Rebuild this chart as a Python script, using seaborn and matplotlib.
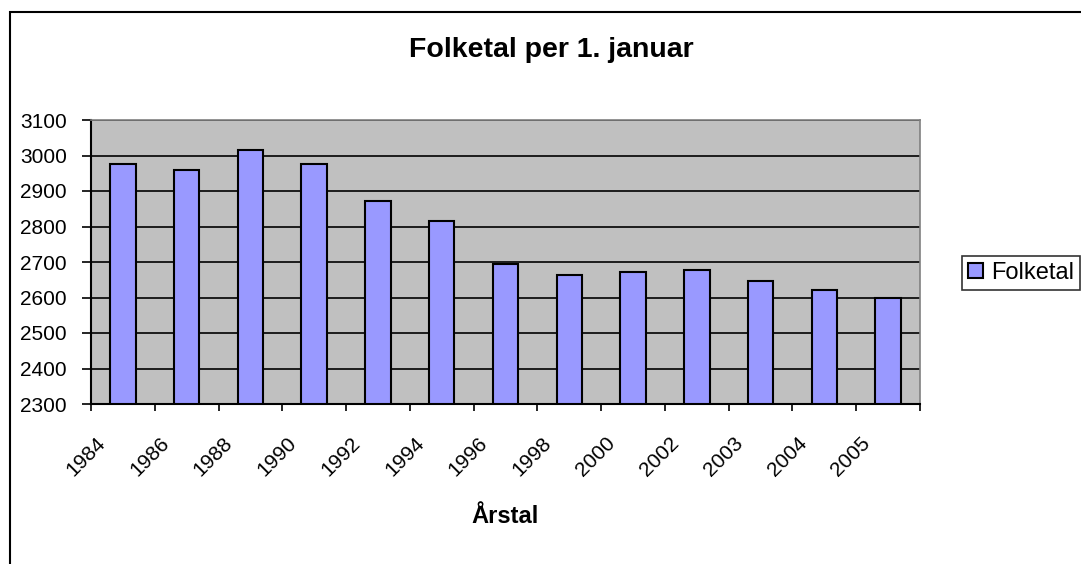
import matplotlib
matplotlib.use('Agg')
import matplotlib.pyplot as plt
from matplotlib.patches import Rectangle
from matplotlib.transforms import ScaledTranslation
import seaborn as sns
import numpy as np

# data
years = ['1984', '1986', '1988', '1990', '1992', '1994', '1996',
         '1998', '2000', '2002', '2003', '2004', '2005']
folketal = [2976, 2958, 3015, 2976, 2871, 2815, 2693,
            2664, 2671, 2677, 2647, 2622, 2600]
y_ticks = list(range(2300, 3101, 100))

sns.set_style('white')
plt.rcParams['font.family'] = ['Liberation Sans', 'DejaVu Sans']
for key in ['text.color', 'axes.labelcolor', 'xtick.color', 'ytick.color']:
    plt.rcParams[key] = 'black'

W, H = 1081, 564
fig = plt.figure(figsize=(W / 100, H / 100), dpi=100)
ax = fig.add_axes([91 / W, 1 - 404 / H, (920 - 91) / W, (404 - 120) / H])
ax.set_facecolor('#C0C0C0')
ax.set_axisbelow(True)

sns.barplot(x=years, y=folketal, color='#9999FF', saturation=1,
            edgecolor='black', linewidth=1.5, width=0.4,
            label='Folketal', ax=ax)

ax.set_ylim(2300, 3100)
ax.set_xlim(-0.5, len(years) - 0.5)
ax.set_yticks(y_ticks)
ax.yaxis.grid(True, color='black', linewidth=1.2)
ax.tick_params(axis='y', labelsize=15, length=6.5, width=1.2, pad=11,
               direction='out', left=True)

# category labels at centres, tick marks at the boundaries
ax.set_xticks(range(len(years)))
ax.set_xticklabels(years, rotation=45, ha='right', va='top', fontsize=15)
ax.tick_params(axis='x', which='major', length=0, pad=21)
shift = ScaledTranslation(-14 / 100, 0, fig.dpi_scale_trans)
for lab in ax.get_xticklabels():
    lab.set_transform(lab.get_transform() + shift)
ax.set_xticks(np.arange(-0.5, len(years)), minor=True)
ax.tick_params(axis='x', which='minor', length=5, width=1.2,
               direction='out', bottom=True)

for side in ['top', 'right']:
    ax.spines[side].set_color('#808080')
    ax.spines[side].set_linewidth(1.2)
for side in ['left', 'bottom']:
    ax.spines[side].set_color('black')
    ax.spines[side].set_linewidth(1.5)

ax.set_xlabel('Årstal', fontsize=17, fontweight='bold', va='baseline')
ax.xaxis.set_label_coords(0.5, (404 - 523) / (404 - 120))
ax.set_ylabel('')
if ax.get_legend():
    ax.get_legend().remove()

fig.text(551 / W, 1 - 57 / H, 'Folketal per 1. januar', ha='center',
         va='baseline', fontsize=20.5, fontweight='bold')

handles, labels = ax.get_legend_handles_labels()
leg = fig.legend(handles, labels, loc='lower left',
                 bbox_to_anchor=(962 / W, 1 - 290 / H), fontsize=17,
                 frameon=True, fancybox=False, handlelength=0.65,
                 handleheight=0.6, handletextpad=0.34, borderpad=0.25,
                 borderaxespad=0)
leg.get_frame().set_edgecolor('black')
leg.get_frame().set_linewidth(1.2)

# outer chart border, cut off at right and bottom like the reference
fig.patches.append(Rectangle((10 / W, -0.1), 2, 1 - 12 / H + 0.1,
                             transform=fig.transFigure, fill=False,
                             edgecolor='black', linewidth=1.5))

fig.savefig('out.png', dpi=100)
